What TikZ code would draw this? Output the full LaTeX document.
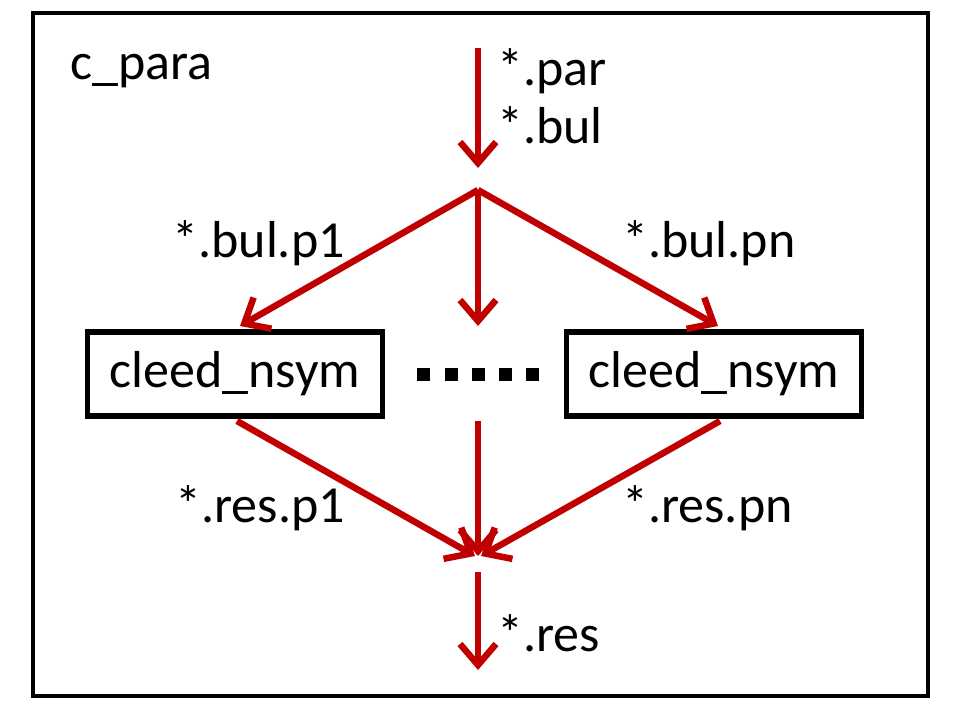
\documentclass[tikz,border=0pt]{standalone}
\usepackage{fontspec}
\setmainfont{Carlito}
\usetikzlibrary{arrows.meta}
\definecolor{arrred}{HTML}{C00000}
\begin{document}
\begin{tikzpicture}[x=1pt,y=-1pt,
  lbl/.style={font=\fontsize{52}{60}\selectfont, inner sep=0pt},
  flow/.style={draw=arrred, line width=6.5pt, -{Straight Barb[length=21pt,width=36pt]}},
  modbox/.style={draw=black, line width=5.5pt, minimum width=295pt, minimum height=84pt, inner sep=0pt, font=\fontsize{52}{60}\selectfont},
  dotsq/.style={fill=black, minimum size=13pt, inner sep=0pt}]
\useasboundingbox (0,0) rectangle (960,720);
\fill[white] (0,0) rectangle (960,720);
\draw[line width=4pt] (33,13) rectangle (928,696);
% labels
\node[lbl, anchor=base west] (cpara) at (70,79) {c\_para};
\node[lbl, anchor=base west] (par) at (497,85) {*.par};
\node[lbl, anchor=base west] (bul) at (497,143) {*.bul};
\node[lbl, anchor=base east] (bulp1) at (345,257) {*.bul.p1};
\node[lbl, anchor=base west] (bulpn) at (622,257) {*.bul.pn};
\node[lbl, anchor=base east] (resp1) at (345,522) {*.res.p1};
\node[lbl, anchor=base west] (respn) at (622,522) {*.res.pn};
\node[lbl, anchor=base west] (res) at (497,651) {*.res};
% boxes
\node[modbox] (b1) at (235,374) {cleed\_nsym};
\node[modbox] (b2) at (714,374) {cleed\_nsym};
% dots
\foreach \i/\xx in {1/423,2/451,3/478,4/505,5/532}
  \node[dotsq] (d\i) at (\xx,374) {};
% coordinates
\coordinate (top) at (478,48);
\coordinate (tin) at (478,168);
\coordinate (split) at (478,190);
\coordinate (l1) at (240,326);
\coordinate (m1) at (478,326);
\coordinate (r1) at (718,326);
\coordinate (ls) at (237,421);
\coordinate (ms) at (478,421);
\coordinate (rs) at (720,421);
\coordinate (merge) at (478,556);
\coordinate (mergel) at (475,556);
\coordinate (merger) at (481,556);
\coordinate (bs) at (478,572);
\coordinate (be) at (478,670);
% arrows
\draw[flow] (top) -- (tin);
\draw[flow] (split) -- (l1);
\draw[flow] (split) -- (r1);
\draw[flow] (split) -- (m1);
\draw[flow] (ls) -- (mergel);
\draw[flow] (rs) -- (merger);
\draw[flow] (ms) -- (merge);
\draw[flow] (bs) -- (be);
\end{tikzpicture}
\end{document}
